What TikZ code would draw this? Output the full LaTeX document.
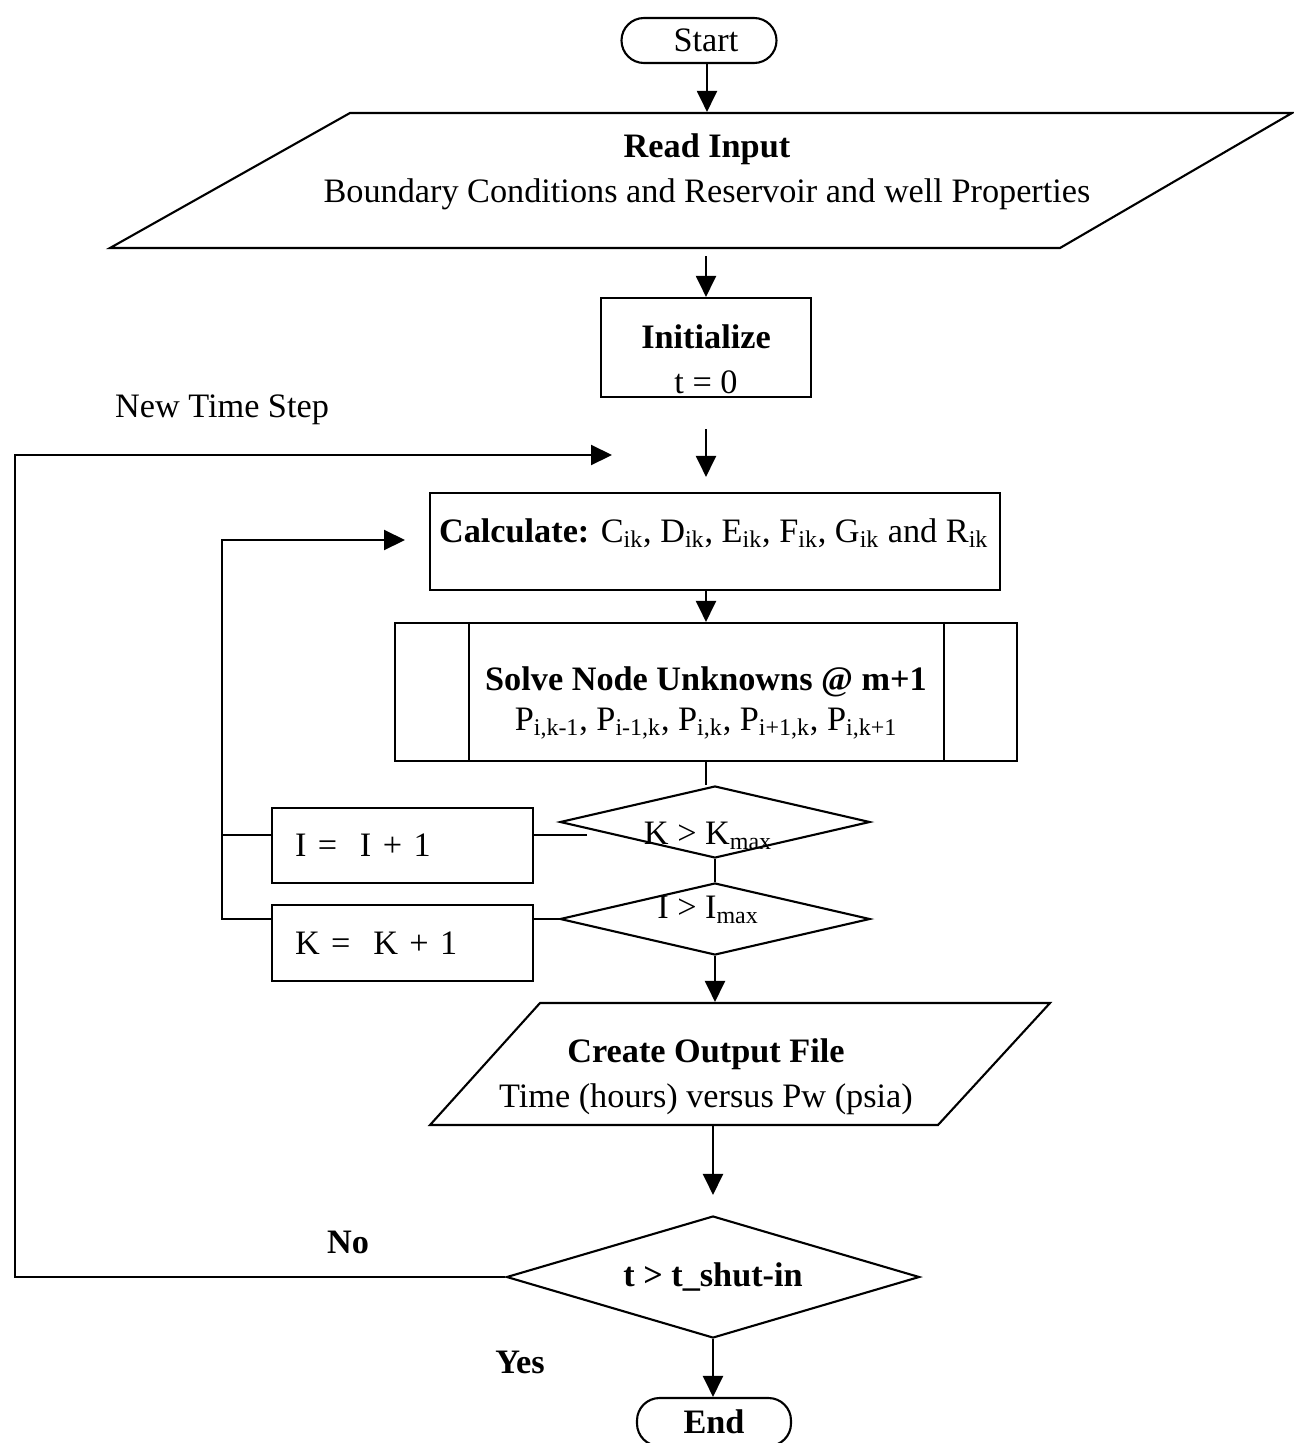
\documentclass[tikz,border=0pt]{standalone}
\usepackage{fontspec}
\setmainfont{Liberation Serif}
\usetikzlibrary{arrows.meta,shapes.geometric}
\newcommand\pxu{0.02cm}
\begin{document}
\begin{tikzpicture}[x=0.02cm,y=-0.02cm,line width=1.2pt,
  font=\fontsize{19.5}{25.5}\selectfont,
  >={Triangle[length=0.42cm,width=0.4cm]},
  box/.style={draw,rectangle,inner sep=0,align=center},
  term/.style={draw,rectangle,rounded corners=0.45cm,inner sep=0},
  dec/.style={draw,diamond,inner sep=0},
  ghost/.style={inner sep=0},
  txt/.style={inner sep=0,align=center}]
\useasboundingbox (0,0) rectangle (1294,1443);

% Start
\node[term,minimum width=155*\pxu,minimum height=45*\pxu] (start) at (699,40.5) {\hspace*{0.28cm}Start};

% Read Input parallelogram
\draw (110,248) -- (350,113) -- (1292,113) -- (1060,248) -- cycle;
\node[ghost,minimum width=700*\pxu,minimum height=135*\pxu] (read) at (707,180.5) {};
\node[txt] (readtxt) at (707,172) {\textbf{Read Input}\\Boundary Conditions and Reservoir and well Properties};

% Initialize
\node[box,minimum width=210*\pxu,minimum height=99*\pxu] (init) at (706,347.5) {};
\node[txt] (inittxt) at (706,359) {\textbf{Initialize}\\t = 0};

% Calculate
\node[box,minimum width=570*\pxu,minimum height=97*\pxu] (calc) at (715,541.5) {};
\node[txt,anchor=west] (calctxt) at (438,533)
  {\textbf{Calculate:} C\textsubscript{ik}, D\textsubscript{ik}, E\textsubscript{ik}, F\textsubscript{ik}, G\textsubscript{ik} and R\textsubscript{ik}};

% Solve
\node[box,minimum width=622*\pxu,minimum height=138*\pxu] (solve) at (706,692) {};
\node[txt] (solvetxt) at (706,703)
  {\textbf{Solve Node Unknowns @ m+1}\\[-3pt]P\textsubscript{i,k-1}, P\textsubscript{i-1,k}, P\textsubscript{i,k}, P\textsubscript{i+1,k}, P\textsubscript{i,k+1}};
\draw ([xshift=1.5cm]solve.north west) -- ([xshift=1.5cm]solve.south west);
\draw ([xshift=-1.48cm]solve.north east) -- ([xshift=-1.48cm]solve.south east);

% Decisions K and I
\node[dec,aspect=4.3,minimum width=310*\pxu,minimum height=72*\pxu] (kdia) at (715,822) {};
\node[txt] (kdiatxt) at (708,836) {K > K\textsubscript{max}};
\node[dec,aspect=4.3,minimum width=310*\pxu,minimum height=72*\pxu] (idia) at (715,919) {};
\node[txt] (idiatxt) at (708,910) {I > I\textsubscript{max}};

% Increment boxes
\node[draw,rectangle,minimum width=261*\pxu,minimum height=75*\pxu,inner xsep=0.46cm,inner ysep=0,
      text width=215*\pxu,align=left] (ibox) at (402.5,845.5) {I =\ \ I + 1};
\node[draw,rectangle,minimum width=261*\pxu,minimum height=76*\pxu,inner xsep=0.46cm,inner ysep=0,
      text width=215*\pxu,align=left] (kbox) at (402.5,943) {K =\ \ K + 1};

% Output parallelogram
\draw (430,1125) -- (540,1003) -- (1050,1003) -- (938,1125) -- cycle;
\node[ghost,minimum width=400*\pxu,minimum height=122*\pxu] (out) at (713,1064) {};
\node[txt] (outtxt) at (706,1077) {\textbf{Create Output File}\\Time (hours) versus Pw (psia)};

% Final decision and end
\node[dec,aspect=3.39,minimum width=413*\pxu,minimum height=122*\pxu] (tdia) at (713,1277) {\textbf{t > t\_shut-in}};
\node[term,minimum width=154*\pxu,minimum height=48*\pxu] (end) at (714,1422) {\textbf{End}};

% Labels
\node[inner sep=0] (ntlbl) at (222,410) {New Time Step};
\node[inner sep=0] (nolbl) at (348,1242) {\textbf{No}};
\node[inner sep=0] (yeslbl) at (520,1362) {\textbf{Yes}};

% Coordinates for free ends
\coordinate (ntend) at (612,455);
\coordinate (calcin) at (405,540);
\coordinate (kin) at (587,835);

% Connectors
\draw[->] (start.south -| read.north) -- (read.north);
\draw[->,shorten <=0.14cm] (read.south -| init) -- (init.north);
\draw[->,shorten <=0.62cm,shorten >=0.3cm] (init.south) -- (init.south |- calc.north);
\draw[->] (calc.south -| solve.north) -- (solve.north);
\draw (solve.south) -- (solve.south |- kdia.north);
\draw (kdia.south) -- (idia.north);
\draw (kin) -- (kin -| ibox.east);
\draw (idia.west) -- (idia.west -| kbox.east);
\draw[->] (kbox.west |- idia.west) -- (222,919) |- (calcin);
\draw (ibox.west |- kin) -- (222,835);
\draw[->] (idia.south) -- (idia.south |- out.north);
\draw[->,shorten >=0.4cm] (out.south) -- (out.south |- tdia.north);
\draw[->] (tdia.south) -- (tdia.south |- end.north);
\draw[->] (tdia.west) -| (15,455) -- (ntend);
\end{tikzpicture}
\end{document}
